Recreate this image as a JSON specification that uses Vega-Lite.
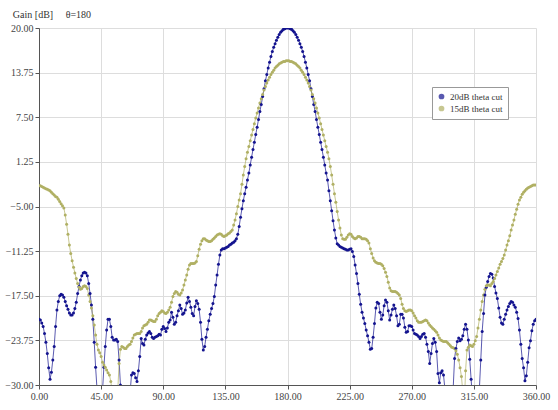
{
  "$schema": "https://vega.github.io/schema/vega-lite/v6.json",
  "autosize": {"type": "none"},
  "width": 497,
  "height": 357,
  "padding": {"left": 39, "top": 28, "right": 22, "bottom": 25},
  "background": "white",
  "title": {"text": "Gain [dB]\u00a0\u00a0\u00a0\u00a0\u00a0θ=180", "anchor": "start", "frame": "bounds", "dx": 8, "offset": 3, "font": "Liberation Serif", "fontSize": 10, "fontWeight": "normal", "color": "#333"},
  "config": {
    "view": {"stroke": null},
    "axis": {"labelFont": "Liberation Serif", "labelFontSize": 10, "labelColor": "#444", "gridColor": "#dddddd", "domainColor": "#555", "tickColor": "#555", "tickSize": 4, "title": null}
  },
  "data": {"values": [
{"t":0,"a":-20.8,"b":-2.1},{"t":1,"a":-20.9,"b":-2.1},{"t":2,"a":-21.3,"b":-2.2},{"t":3,"a":-21.8,"b":-2.3},{"t":4,"a":-22.8,"b":-2.4},{"t":5,"a":-24.0,"b":-2.5},{"t":6,"a":-25.6,"b":-2.6},{"t":7,"a":-27.6,"b":-2.7},{"t":8,"a":-29.2,"b":-2.8},{"t":9,"a":-28.2,"b":-3.0},
{"t":10,"a":-26.5,"b":-3.2},{"t":11,"a":-24.6,"b":-3.4},{"t":12,"a":-21.8,"b":-3.6},{"t":13,"a":-19.5,"b":-3.7},{"t":14,"a":-18.3,"b":-4.0},{"t":15,"a":-17.5,"b":-4.3},{"t":16,"a":-17.3,"b":-4.6},{"t":17,"a":-17.4,"b":-4.9},{"t":18,"a":-17.7,"b":-5.2},{"t":19,"a":-18.3,"b":-6.2},
{"t":20,"a":-18.9,"b":-7.5},{"t":21,"a":-19.4,"b":-8.9},{"t":22,"a":-19.9,"b":-10.4},{"t":23,"a":-20.2,"b":-11.6},{"t":24,"a":-20.2,"b":-12.6},{"t":25,"a":-19.9,"b":-13.5},{"t":26,"a":-19.3,"b":-14.3},{"t":27,"a":-18.4,"b":-15.1},{"t":28,"a":-17.2,"b":-15.8},{"t":29,"a":-16.2,"b":-16.3},
{"t":30,"a":-15.3,"b":-16.6},{"t":31,"a":-14.7,"b":-16.5},{"t":32,"a":-14.3,"b":-16.2},{"t":33,"a":-14.2,"b":-16.1},{"t":34,"a":-14.3,"b":-16.2},{"t":35,"a":-14.7,"b":-16.5},{"t":36,"a":-15.8,"b":-17.4},{"t":37,"a":-17.2,"b":-18.3},{"t":38,"a":-18.8,"b":-19.2},{"t":39,"a":-20.8,"b":-20.3},
{"t":40,"a":-24.0,"b":-21.6},{"t":41,"a":-27.5,"b":-23.0},{"t":42,"a":-30.5,"b":-24.3},{"t":43,"a":-33,"b":-25.1},{"t":44,"a":-33,"b":-25.5},{"t":45,"a":-33,"b":-26.0},{"t":46,"a":-30.8,"b":-26.8},{"t":47,"a":-27.5,"b":-27.2},{"t":48,"a":-24.6,"b":-27.5},{"t":49,"a":-22.3,"b":-27.9},
{"t":50,"a":-20.8,"b":-28.3},{"t":51,"a":-20.8,"b":-28.6},{"t":52,"a":-21.8,"b":-29.5},{"t":53,"a":-23.3,"b":-31},{"t":54,"a":-23.7,"b":-33},{"t":55,"a":-23.7,"b":-33},{"t":56,"a":-23.6,"b":-33},{"t":57,"a":-23.9,"b":-31},{"t":58,"a":-26.5,"b":-27},{"t":59,"a":-30,"b":-25.0},
{"t":60,"a":-33,"b":-24.6},{"t":61,"a":-33,"b":-24.7},{"t":62,"a":-33,"b":-24.9},{"t":63,"a":-33,"b":-24.9},{"t":64,"a":-33,"b":-24.6},{"t":65,"a":-33,"b":-24.4},{"t":66,"a":-31,"b":-24.3},{"t":67,"a":-28.6,"b":-23.9},{"t":68,"a":-28.3,"b":-23.4},{"t":69,"a":-28.4,"b":-23.0},
{"t":70,"a":-29,"b":-22.9},{"t":71,"a":-29.5,"b":-22.8},{"t":72,"a":-28,"b":-22.8},{"t":73,"a":-26,"b":-22.8},{"t":74,"a":-23.5,"b":-22.5},{"t":75,"a":-24.2,"b":-22.0},{"t":76,"a":-24.4,"b":-21.7},{"t":77,"a":-23.6,"b":-21.6},{"t":78,"a":-23,"b":-21.5},{"t":79,"a":-22.7,"b":-21.2},
{"t":80,"a":-22.5,"b":-20.9},{"t":81,"a":-22.8,"b":-20.9},{"t":82,"a":-23.3,"b":-21.0},{"t":83,"a":-23.5,"b":-21.1},{"t":84,"a":-23.3,"b":-21.1},{"t":85,"a":-23.2,"b":-20.8},{"t":86,"a":-23.1,"b":-20.3},{"t":87,"a":-22.9,"b":-20.0},{"t":88,"a":-23.0,"b":-19.8},{"t":89,"a":-22.2,"b":-19.6},
{"t":90,"a":-21.8,"b":-19.7},{"t":91,"a":-22.1,"b":-19.9},{"t":92,"a":-22.5,"b":-20.0},{"t":93,"a":-22.0,"b":-19.8},{"t":94,"a":-21.2,"b":-19.5},{"t":95,"a":-20.9,"b":-19.1},{"t":96,"a":-19.8,"b":-18.4},{"t":97,"a":-20.5,"b":-17.6},{"t":98,"a":-21.5,"b":-17.2},{"t":99,"a":-21.2,"b":-16.9},
{"t":100,"a":-20.3,"b":-17.0},{"t":101,"a":-19.6,"b":-17.3},{"t":102,"a":-18.8,"b":-17.4},{"t":103,"a":-19.3,"b":-17.1},{"t":104,"a":-20.1,"b":-16.7},{"t":105,"a":-19.9,"b":-16.0},{"t":106,"a":-19.5,"b":-15.3},{"t":107,"a":-18.5,"b":-14.6},{"t":108,"a":-17.7,"b":-13.8},{"t":109,"a":-18.3,"b":-13.2},
{"t":110,"a":-19.1,"b":-13.0},{"t":111,"a":-20.0,"b":-13.0},{"t":112,"a":-20.3,"b":-13.0},{"t":113,"a":-19.0,"b":-12.9},{"t":114,"a":-18.2,"b":-12.7},{"t":115,"a":-18.6,"b":-11.9},{"t":116,"a":-19.4,"b":-11.0},{"t":117,"a":-21.2,"b":-10.3},{"t":118,"a":-23.6,"b":-9.8},{"t":119,"a":-25.1,"b":-9.5},
{"t":120,"a":-24.6,"b":-9.5},{"t":121,"a":-23.3,"b":-9.7},{"t":122,"a":-22.2,"b":-9.8},{"t":123,"a":-21.0,"b":-9.9},{"t":124,"a":-20.1,"b":-9.9},{"t":125,"a":-19.3,"b":-9.8},{"t":126,"a":-18.6,"b":-9.6},{"t":127,"a":-17.6,"b":-9.4},{"t":128,"a":-16.0,"b":-9.2},{"t":129,"a":-14.6,"b":-9.0},
{"t":130,"a":-13.1,"b":-8.9},{"t":131,"a":-11.8,"b":-8.8},{"t":132,"a":-11.1,"b":-8.9},{"t":133,"a":-10.9,"b":-9.1},{"t":134,"a":-10.9,"b":-9.2},{"t":135,"a":-10.8,"b":-9.1},{"t":136,"a":-10.7,"b":-9.0},{"t":137,"a":-10.6,"b":-8.8},{"t":138,"a":-10.4,"b":-8.7},{"t":139,"a":-10.3,"b":-8.5},
{"t":140,"a":-10.1,"b":-8.3},{"t":141,"a":-10.0,"b":-7.6},{"t":142,"a":-9.8,"b":-6.9},{"t":143,"a":-9.5,"b":-6.0},{"t":144,"a":-8.9,"b":-5.0},{"t":145,"a":-7.8,"b":-4.1},{"t":146,"a":-6.5,"b":-3.2},{"t":147,"a":-5.3,"b":-1.9},{"t":148,"a":-4.2,"b":-0.6},{"t":149,"a":-3.2,"b":0.6},
{"t":150,"a":-2.3,"b":1.7},{"t":151,"a":-1.3,"b":2.6},{"t":152,"a":-0.3,"b":3.4},{"t":153,"a":0.8,"b":4.2},{"t":154,"a":1.9,"b":5.0},{"t":155,"a":3.0,"b":5.8},{"t":156,"a":4.0,"b":6.6},{"t":157,"a":5.1,"b":7.4},{"t":158,"a":6.1,"b":8.1},{"t":159,"a":7.2,"b":8.8},
{"t":160,"a":8.3,"b":9.5},{"t":161,"a":9.3,"b":10.1},{"t":162,"a":10.4,"b":10.7},{"t":163,"a":11.5,"b":11.3},{"t":164,"a":12.6,"b":11.8},{"t":165,"a":13.5,"b":12.3},{"t":166,"a":14.4,"b":12.7},{"t":167,"a":15.2,"b":13.1},{"t":168,"a":16.0,"b":13.5},{"t":169,"a":16.7,"b":13.8},
{"t":170,"a":17.3,"b":14.1},{"t":171,"a":17.8,"b":14.4},{"t":172,"a":18.3,"b":14.6},{"t":173,"a":18.7,"b":14.8},{"t":174,"a":19.1,"b":15.0},{"t":175,"a":19.4,"b":15.1},{"t":176,"a":19.6,"b":15.2},{"t":177,"a":19.8,"b":15.3},{"t":178,"a":19.9,"b":15.3},{"t":179,"a":20.0,"b":15.4},
{"t":180,"a":20.0,"b":15.4},{"t":181,"a":20.0,"b":15.4},{"t":182,"a":19.9,"b":15.3},{"t":183,"a":19.8,"b":15.3},{"t":184,"a":19.6,"b":15.2},{"t":185,"a":19.4,"b":15.1},{"t":186,"a":19.1,"b":15.0},{"t":187,"a":18.7,"b":14.8},{"t":188,"a":18.3,"b":14.6},{"t":189,"a":17.8,"b":14.4},
{"t":190,"a":17.3,"b":14.1},{"t":191,"a":16.7,"b":13.8},{"t":192,"a":16.0,"b":13.5},{"t":193,"a":15.2,"b":13.1},{"t":194,"a":14.4,"b":12.7},{"t":195,"a":13.5,"b":12.3},{"t":196,"a":12.6,"b":11.8},{"t":197,"a":11.5,"b":11.3},{"t":198,"a":10.4,"b":10.7},{"t":199,"a":9.3,"b":10.1},
{"t":200,"a":8.3,"b":9.5},{"t":201,"a":7.2,"b":8.8},{"t":202,"a":6.1,"b":8.1},{"t":203,"a":5.1,"b":7.4},{"t":204,"a":4.0,"b":6.6},{"t":205,"a":3.0,"b":5.8},{"t":206,"a":1.9,"b":5.0},{"t":207,"a":0.8,"b":4.2},{"t":208,"a":-0.3,"b":3.4},{"t":209,"a":-1.3,"b":2.6},
{"t":210,"a":-2.8,"b":1.7},{"t":211,"a":-4.2,"b":0.6},{"t":212,"a":-5.6,"b":-0.6},{"t":213,"a":-7.0,"b":-1.9},{"t":214,"a":-8.3,"b":-3.2},{"t":215,"a":-9.4,"b":-4.4},{"t":216,"a":-10.2,"b":-5.7},{"t":217,"a":-10.4,"b":-6.9},{"t":218,"a":-10.6,"b":-8.0},{"t":219,"a":-10.7,"b":-9.0},
{"t":220,"a":-10.8,"b":-9.5},{"t":221,"a":-10.9,"b":-9.6},{"t":222,"a":-11.0,"b":-9.6},{"t":223,"a":-11.1,"b":-9.3},{"t":224,"a":-11.1,"b":-9.0},{"t":225,"a":-11.0,"b":-8.8},{"t":226,"a":-10.9,"b":-8.9},{"t":227,"a":-11.3,"b":-9.2},{"t":228,"a":-12.0,"b":-9.4},{"t":229,"a":-13.2,"b":-9.5},
{"t":230,"a":-14.4,"b":-9.4},{"t":231,"a":-15.8,"b":-9.2},{"t":232,"a":-17.3,"b":-9.2},{"t":233,"a":-18.7,"b":-9.3},{"t":234,"a":-19.8,"b":-9.5},{"t":235,"a":-20.6,"b":-9.5},{"t":236,"a":-21.4,"b":-9.5},{"t":237,"a":-22.3,"b":-9.6},{"t":238,"a":-23.1,"b":-9.8},{"t":239,"a":-24.0,"b":-10.1},
{"t":240,"a":-25.0,"b":-10.9},{"t":241,"a":-24.9,"b":-11.6},{"t":242,"a":-23.3,"b":-12.2},{"t":243,"a":-21.4,"b":-12.6},{"t":244,"a":-19.2,"b":-12.8},{"t":245,"a":-18.4,"b":-12.9},{"t":246,"a":-18.6,"b":-13.0},{"t":247,"a":-19.8,"b":-13.0},{"t":248,"a":-20.8,"b":-13.1},{"t":249,"a":-20.2,"b":-13.3},
{"t":250,"a":-18.9,"b":-13.7},{"t":251,"a":-18.1,"b":-14.2},{"t":252,"a":-18.4,"b":-14.8},{"t":253,"a":-19.6,"b":-15.6},{"t":254,"a":-20.9,"b":-16.4},{"t":255,"a":-20.2,"b":-16.8},{"t":256,"a":-19.4,"b":-16.9},{"t":257,"a":-18.8,"b":-16.9},{"t":258,"a":-19.3,"b":-16.9},{"t":259,"a":-20.3,"b":-17.0},
{"t":260,"a":-21.7,"b":-17.2},{"t":261,"a":-21.5,"b":-17.4},{"t":262,"a":-20.1,"b":-17.9},{"t":263,"a":-20.1,"b":-18.7},{"t":264,"a":-20.6,"b":-19.3},{"t":265,"a":-21.9,"b":-19.6},{"t":266,"a":-22.6,"b":-19.7},{"t":267,"a":-22.5,"b":-19.6},{"t":268,"a":-21.7,"b":-19.5},{"t":269,"a":-21.7,"b":-19.5},
{"t":270,"a":-21.8,"b":-19.6},{"t":271,"a":-22.3,"b":-19.9},{"t":272,"a":-22.8,"b":-20.3},{"t":273,"a":-22.9,"b":-20.6},{"t":274,"a":-23.0,"b":-21.0},{"t":275,"a":-23.2,"b":-21.2},{"t":276,"a":-23.5,"b":-21.2},{"t":277,"a":-23.2,"b":-21.2},{"t":278,"a":-22.9,"b":-21.1},{"t":279,"a":-22.8,"b":-21.0},
{"t":280,"a":-23.3,"b":-20.9},{"t":281,"a":-24.3,"b":-21.0},{"t":282,"a":-25.3,"b":-21.3},{"t":283,"a":-27.0,"b":-21.6},{"t":284,"a":-25.6,"b":-21.8},{"t":285,"a":-24.2,"b":-22.0},{"t":286,"a":-23.5,"b":-22.2},{"t":287,"a":-24.0,"b":-22.4},{"t":288,"a":-25.3,"b":-22.6},{"t":289,"a":-28.4,"b":-23.0},
{"t":290,"a":-29.7,"b":-23.4},{"t":291,"a":-28.3,"b":-23.7},{"t":292,"a":-28.0,"b":-23.8},{"t":293,"a":-28.6,"b":-23.9},{"t":294,"a":-30.5,"b":-23.9},{"t":295,"a":-33,"b":-23.9},{"t":296,"a":-33,"b":-24.1},{"t":297,"a":-33,"b":-24.3},{"t":298,"a":-33,"b":-24.5},{"t":299,"a":-33,"b":-24.7},
{"t":300,"a":-30.5,"b":-24.8},{"t":301,"a":-26.3,"b":-24.9},{"t":302,"a":-24.9,"b":-25.2},{"t":303,"a":-23.9,"b":-25.7},{"t":304,"a":-23.4,"b":-26.5},{"t":305,"a":-23.8,"b":-27.6},{"t":306,"a":-23.6,"b":-28.8},{"t":307,"a":-23.1,"b":-31},{"t":308,"a":-22.2,"b":-33},{"t":309,"a":-21.5,"b":-28},
{"t":310,"a":-22.2,"b":-25.1},{"t":311,"a":-23.7,"b":-24.7},{"t":312,"a":-26.4,"b":-24.4},{"t":313,"a":-29.2,"b":-24.5},{"t":314,"a":-32,"b":-24.6},{"t":315,"a":-33,"b":-24.3},{"t":316,"a":-33,"b":-23.8},{"t":317,"a":-33,"b":-23.2},{"t":318,"a":-33,"b":-22.0},{"t":319,"a":-30.5,"b":-20.8},
{"t":320,"a":-26.5,"b":-19.5},{"t":321,"a":-22.5,"b":-18.3},{"t":322,"a":-20.0,"b":-17.4},{"t":323,"a":-17.4,"b":-16.6},{"t":324,"a":-16.3,"b":-16.1},{"t":325,"a":-15.5,"b":-16.0},{"t":326,"a":-14.8,"b":-16.0},{"t":327,"a":-14.4,"b":-16.1},{"t":328,"a":-14.5,"b":-15.8},{"t":329,"a":-15.0,"b":-15.5},
{"t":330,"a":-16.2,"b":-15.1},{"t":331,"a":-17.1,"b":-14.6},{"t":332,"a":-17.9,"b":-14.1},{"t":333,"a":-19.2,"b":-13.6},{"t":334,"a":-20.5,"b":-13.1},{"t":335,"a":-21.3,"b":-12.7},{"t":336,"a":-21.5,"b":-12.3},{"t":337,"a":-20.8,"b":-11.8},{"t":338,"a":-20.1,"b":-11.1},{"t":339,"a":-19.5,"b":-10.4},
{"t":340,"a":-19.0,"b":-9.8},{"t":341,"a":-18.6,"b":-9.1},{"t":342,"a":-18.3,"b":-8.3},{"t":343,"a":-18.4,"b":-7.6},{"t":344,"a":-18.8,"b":-6.9},{"t":345,"a":-19.1,"b":-6.1},{"t":346,"a":-19.8,"b":-5.4},{"t":347,"a":-20.7,"b":-4.7},{"t":348,"a":-22.3,"b":-4.1},{"t":349,"a":-24.3,"b":-3.7},
{"t":350,"a":-26.3,"b":-3.3},{"t":351,"a":-27.6,"b":-3.0},{"t":352,"a":-29.4,"b":-2.8},{"t":353,"a":-28.7,"b":-2.6},{"t":354,"a":-26.8,"b":-2.4},{"t":355,"a":-24.8,"b":-2.3},{"t":356,"a":-23.8,"b":-2.2},{"t":357,"a":-22.4,"b":-2.1},{"t":358,"a":-21.5,"b":-2.0},{"t":359,"a":-21.0,"b":-2.0},
{"t":360,"a":-20.8,"b":-2.0}
  ]},
  "transform": [{"fold": ["a", "b"], "as": ["k", "g"]}],
  "encoding": {
    "x": {"field": "t", "type": "quantitative", "scale": {"domain": [0, 360], "nice": false},
      "axis": {"values": [0, 45, 90, 135, 180, 225, 270, 315, 360], "format": ".2f", "labelFlush": false}},
    "y": {"field": "g", "type": "quantitative", "scale": {"domain": [-30, 20], "nice": false, "zero": false},
      "axis": {"values": [20, 13.75, 7.5, 1.25, -5, -11.25, -17.5, -23.75, -30], "format": ".2f", "labelFlush": false}},
    "color": {"field": "k", "type": "nominal", "scale": {"domain": ["a", "b"], "range": ["#14148f", "#b0b064"]},
      "legend": {"title": null, "orient": "none", "legendX": 393, "legendY": 59, "fillColor": "white", "strokeColor": "#999", "padding": 5, "labelFont": "Liberation Serif", "labelFontSize": 9, "labelColor": "#333", "symbolSize": 18, "rowPadding": 1,
        "labelExpr": "datum.label == 'a' ? '20dB theta cut' : '15dB theta cut'"}}
  },
  "layer": [
    {"mark": {"type": "line", "clip": true, "strokeWidth": 1, "opacity": 0.7}},
    {"mark": {"type": "point", "filled": true, "clip": true, "size": 9, "opacity": 1}}
  ]
}
